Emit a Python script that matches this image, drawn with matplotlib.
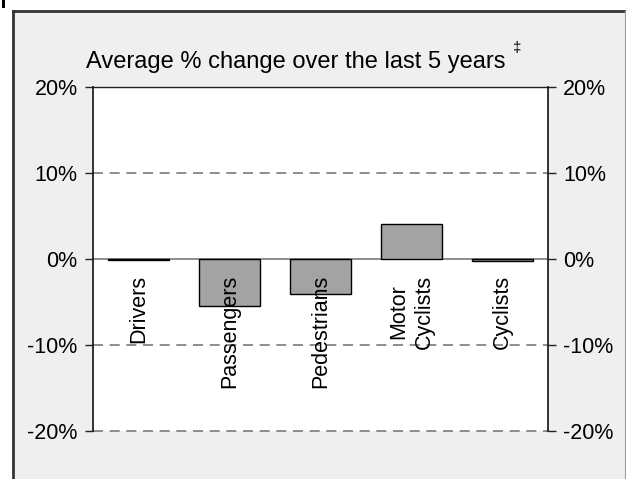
import matplotlib
matplotlib.use("Agg")
import matplotlib.pyplot as plt
from matplotlib.patches import Rectangle
from matplotlib.lines import Line2D

categories = ["Drivers", "Passengers", "Pedestrians", "Motor\nCyclists", "Cyclists"]
values = [-0.1, -5.5, -4.1, 4.1, -0.25]
tick_values = [-20, -10, 0, 10, 20]
tick_labels = ["-20%", "-10%", "0%", "10%", "20%"]
title = "Average % change over the last 5 years"

plt.rcParams['font.family'] = ['Liberation Sans', 'DejaVu Sans']

W, H = 626, 479
fig = plt.figure(figsize=(W / 100, H / 100), dpi=100)
fig.patch.set_facecolor("white")

def fx(px):
    return px / W

def fy(py):
    return 1 - py / H

# outer gray panel
fig.patches.append(Rectangle((fx(13), fy(490)), fx(611), fy(11) - fy(490),
                             transform=fig.transFigure, facecolor="#efefef",
                             edgecolor="none", zorder=-2))
fig.lines.append(Line2D([fx(13), fx(13)], [fy(11), 0], transform=fig.transFigure,
                        color="#333333", lw=2.0, zorder=-1))
fig.lines.append(Line2D([fx(13), 1], [fy(11), fy(11)], transform=fig.transFigure,
                        color="#333333", lw=2.0, zorder=-1))
fig.lines.append(Line2D([fx(624.5), fx(624.5)], [fy(11), 0], transform=fig.transFigure,
                        color="#9a9a9a", lw=1.0, zorder=-1))
# small mark top-left
fig.patches.append(Rectangle((fx(2), fy(8)), fx(3), fy(0) - fy(8),
                             transform=fig.transFigure, facecolor="black",
                             edgecolor="none", zorder=-1))

ax = fig.add_axes([fx(93), fy(431), fx(548) - fx(93), fy(87) - fy(431)])
ax.set_zorder(1)
ax.set_facecolor("white")
ax.set_xlim(-0.5, len(categories) - 0.5)
ax.set_ylim(-20, 20)

x = list(range(len(categories)))
ax.bar(x, values, width=0.665, color="#a3a3a3", edgecolor="black", linewidth=1.0, zorder=3)

for v in [-10, 10]:
    ax.axhline(v, color="#7a7a7a", lw=1.2, ls=(0, (6, 4)), zorder=1, clip_on=False)
ax.axhline(-20, color="#7a7a7a", lw=1.2, ls=(0, (6, 4)), zorder=1, clip_on=False)
ax.axhline(20, color="#222222", lw=1.0, zorder=1, clip_on=False)
ax.axhline(0, color="#7a7a7a", lw=1.2, zorder=2)

for s in ["top", "bottom"]:
    ax.spines[s].set_visible(False)
for s in ["left", "right"]:
    ax.spines[s].set_color("#111111")
    ax.spines[s].set_linewidth(1.2)

ax.set_xticks([])
ax.set_yticks(tick_values)
ax.set_yticklabels(tick_labels)
ax.tick_params(axis="y", which="both", left=True, right=True, labelleft=True,
               labelright=True, length=6, width=1.0, color="#222222",
               labelsize=15.5, pad=5, direction="out")

for xi, lab in zip(x, categories):
    ax.text(xi, -1.85, lab, rotation=90, ha="center", va="top",
            multialignment="center", fontsize=15.5, color="black", zorder=4,
            linespacing=1.3)

fig.text(fx(296), fy(62), title, ha="center", va="center", fontsize=17, color="black")
fig.text(fx(517), fy(48), "\u2021", ha="center", va="center", fontsize=11, color="black")

fig.savefig("out.png", dpi=100, facecolor="white")
